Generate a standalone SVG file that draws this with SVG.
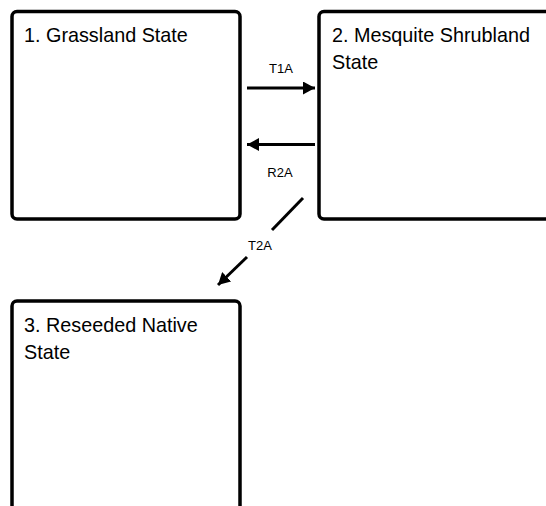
<svg xmlns="http://www.w3.org/2000/svg" width="546" height="506" viewBox="0 0 546 506">
<style>
.box{fill:#fff;stroke:#000;stroke-width:3.5}
.t{font-family:"Liberation Sans",Arial,sans-serif;font-size:19.8px;fill:#000}
.l{font-family:"Liberation Sans",Arial,sans-serif;font-size:13px;fill:#000;text-anchor:middle}
.c{stroke:#000;stroke-width:3;fill:none}
</style>
<defs>
<marker id="ah" viewBox="0 0 12 13" refX="12" refY="6.5" markerWidth="12" markerHeight="13" markerUnits="userSpaceOnUse" orient="auto">
<path d="M0,0 L12,6.5 L0,13 Z" fill="#000"/>
</marker>
</defs>
<rect width="546" height="506" fill="#fff"/>
<g id="node1">
<rect class="box" x="12" y="11.5" width="228" height="207.5" rx="5"/>
<text class="t" x="24" y="41.5">1. Grassland State</text>
</g>
<g id="node2">
<rect class="box" x="319" y="11.5" width="240" height="207.5" rx="5"/>
<text class="t" x="332" y="41.5">2. Mesquite Shrubland</text>
<text class="t" x="332" y="68.5">State</text>
</g>
<g id="node3">
<rect class="box" x="12" y="301" width="228" height="220" rx="5"/>
<text class="t" x="24" y="331.5">3. Reseeded Native</text>
<text class="t" x="24" y="358.5">State</text>
</g>
<g id="connectors">
<line class="c" x1="247" y1="88" x2="315" y2="88" marker-end="url(#ah)"/>
<text class="l" x="281" y="73">T1A</text>
<line class="c" x1="315" y1="144.5" x2="247" y2="144.5" marker-end="url(#ah)"/>
<text class="l" x="280" y="177">R2A</text>
<line class="c" x1="303" y1="198" x2="272" y2="230"/>
<line class="c" x1="247" y1="257" x2="218" y2="285" marker-end="url(#ah)"/>
<text class="l" x="260" y="250">T2A</text>
</g>
</svg>
